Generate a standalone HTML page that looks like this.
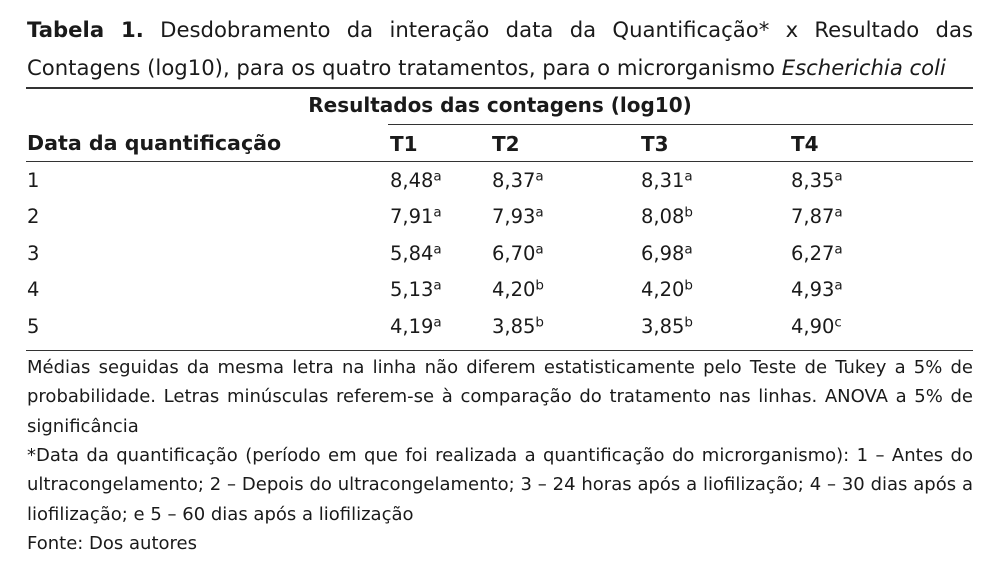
<!DOCTYPE html>
<html>
<head>
<meta charset="utf-8">
<style>
html,body{margin:0;padding:0;background:#fff;}
body{width:1004px;height:566px;position:relative;overflow:hidden;font-family:"DejaVu Sans","Liberation Sans",sans-serif;color:#1a1a1a;}
.a{position:absolute;white-space:nowrap;}
.t{position:absolute;left:27px;width:946px;font-size:21.2px;line-height:21.2px;}
.j{text-align:justify;text-align-last:justify;}
.f{position:absolute;left:27px;width:946px;font-size:18px;line-height:18px;}
.b{font-weight:bold;font-size:20px;line-height:20px;}
.v{font-size:19.5px;line-height:19.5px;}
.rule{position:absolute;height:1.5px;background:#333;}
sup{font-size:13.5px;vertical-align:6.5px;line-height:0;}
</style>
</head>
<body>
<div class="t j" style="top:18.8px;"><b>Tabela 1.</b> Desdobramento da interação data da Quantificação* x Resultado das</div>
<div class="t" style="top:57.1px;">Contagens (log10), para os quatro tratamentos, para o microrganismo <i>Escherichia coli</i></div>

<div class="rule" style="left:26px;width:947px;top:87px;"></div>
<div class="a b" style="left:27px;width:946px;text-align:center;top:94.6px;">Resultados das contagens (log10)</div>
<div class="rule" style="left:388px;width:585px;top:123.6px;"></div>

<div class="a b" style="left:27px;top:133.1px;font-size:20.6px;line-height:20.6px;">Data da quantificação</div>
<div class="a b" style="left:390px;top:133.6px;">T1</div>
<div class="a b" style="left:492px;top:133.6px;">T2</div>
<div class="a b" style="left:641px;top:133.6px;">T3</div>
<div class="a b" style="left:791px;top:133.6px;">T4</div>
<div class="rule" style="left:26px;width:947px;top:160.5px;"></div>

<div class="a v" style="left:27px;top:170.5px;">1</div>
<div class="a v" style="left:390px;top:170.5px;">8,48<sup>a</sup></div>
<div class="a v" style="left:492px;top:170.5px;">8,37<sup>a</sup></div>
<div class="a v" style="left:641px;top:170.5px;">8,31<sup>a</sup></div>
<div class="a v" style="left:791px;top:170.5px;">8,35<sup>a</sup></div>

<div class="a v" style="left:27px;top:207px;">2</div>
<div class="a v" style="left:390px;top:207px;">7,91<sup>a</sup></div>
<div class="a v" style="left:492px;top:207px;">7,93<sup>a</sup></div>
<div class="a v" style="left:641px;top:207px;">8,08<sup>b</sup></div>
<div class="a v" style="left:791px;top:207px;">7,87<sup>a</sup></div>

<div class="a v" style="left:27px;top:243.5px;">3</div>
<div class="a v" style="left:390px;top:243.5px;">5,84<sup>a</sup></div>
<div class="a v" style="left:492px;top:243.5px;">6,70<sup>a</sup></div>
<div class="a v" style="left:641px;top:243.5px;">6,98<sup>a</sup></div>
<div class="a v" style="left:791px;top:243.5px;">6,27<sup>a</sup></div>

<div class="a v" style="left:27px;top:280px;">4</div>
<div class="a v" style="left:390px;top:280px;">5,13<sup>a</sup></div>
<div class="a v" style="left:492px;top:280px;">4,20<sup>b</sup></div>
<div class="a v" style="left:641px;top:280px;">4,20<sup>b</sup></div>
<div class="a v" style="left:791px;top:280px;">4,93<sup>a</sup></div>

<div class="a v" style="left:27px;top:316.5px;">5</div>
<div class="a v" style="left:390px;top:316.5px;">4,19<sup>a</sup></div>
<div class="a v" style="left:492px;top:316.5px;">3,85<sup>b</sup></div>
<div class="a v" style="left:641px;top:316.5px;">3,85<sup>b</sup></div>
<div class="a v" style="left:791px;top:316.5px;">4,90<sup>c</sup></div>

<div class="rule" style="left:26px;width:947px;top:349.5px;"></div>

<div class="f j" style="top:358.8px;">Médias seguidas da mesma letra na linha não diferem estatisticamente pelo Teste de Tukey a 5% de</div>
<div class="f j" style="top:388.3px;">probabilidade. Letras minúsculas referem-se à comparação do tratamento nas linhas. ANOVA a 5% de</div>
<div class="f" style="top:417.8px;">significância</div>
<div class="f j" style="top:446.8px;">*Data da quantificação (período em que foi realizada a quantificação do microrganismo): 1 – Antes do</div>
<div class="f j" style="top:476.3px;">ultracongelamento; 2 – Depois do ultracongelamento; 3 – 24 horas após a liofilização; 4 – 30 dias após a</div>
<div class="f" style="top:505.8px;">liofilização; e 5 – 60 dias após a liofilização</div>
<div class="f" style="top:535.3px;">Fonte: Dos autores</div>
</body>
</html>
